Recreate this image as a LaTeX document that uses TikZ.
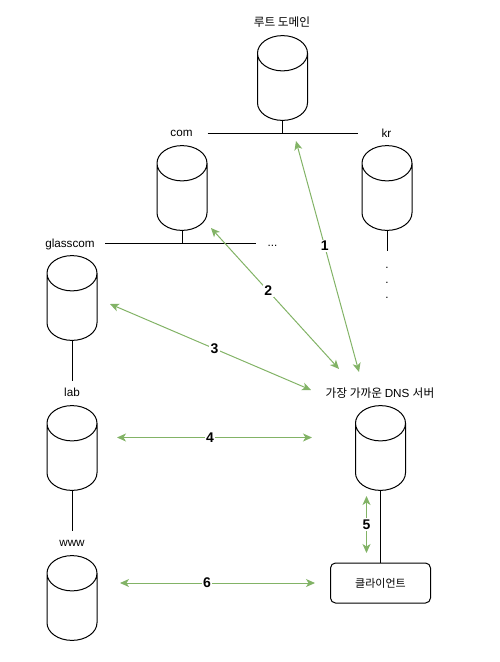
\documentclass[tikz,border=0pt]{standalone}
\usepackage{fontspec}
\setmainfont{Liberation Sans}
\newfontfamily\cjk{Noto Sans CJK KR}
\usetikzlibrary{arrows.meta,shapes.geometric}
\definecolor{hopgreen}{HTML}{82B366}
\tikzset{>={Stealth[length=9pt,width=8pt,inset=2.5pt]}}
\tikzstyle{server}=[draw, shape=cylinder, shape border rotate=90, aspect=0.72,
  anchor=shape center, minimum width=50pt, minimum height=77pt,
  inner sep=24.5pt, line width=1pt]
\tikzstyle{client}=[draw, rounded corners=5pt, minimum width=100pt,
  minimum height=40pt, inner sep=0pt, line width=1pt,
  font=\fontsize{11}{14}\selectfont]
\tikzstyle{tag}=[inner sep=0pt, font=\fontsize{11.7}{14}\selectfont]
\tikzstyle{link}=[line width=1pt]
\tikzstyle{hop}=[<->, hopgreen, line width=1pt]
\tikzstyle{hopnum}=[fill=white, inner sep=1.5pt, text=black,
  font=\fontsize{14}{16}\bfseries\selectfont]

\begin{document}
\begin{tikzpicture}[x=1pt,y=1pt]
  \useasboundingbox (0,0) rectangle (499,-662);

  \node(root)[server] at (282.5,-78) {};
  \path(root.shape center)+(0,-55) coordinate(rootbar);
  \path(rootbar)+(-75,0) coordinate(rootbarl);
  \path(rootbar)+(75,0) coordinate(rootbarr);
  \draw[link] (root.south) -- (rootbar);
  \draw[link] (rootbarl) -- (rootbarr);
  \path(root.shape center)+(-.5,55.5) node(rootname)[tag]{\cjk 루트 도메인};

  \path(root.shape center)+(-100.5,-110) node(com)[server]{};
  \path(root.shape center)+(-101,-55) node(comlabel)[tag]{com};
  \path(com.shape center)+(0,-55) coordinate(combar);
  \path(combar)+(-77,0) coordinate(combarl);
  \path(combar)+(73.5,0) coordinate(combarr);
  \draw[link] (com.south) -- (combar);
  \draw[link] (combarl) -- (combarr);
  \path(combar)+(90.5,-3) node(comdots)[tag]{...};

  \path(root.shape center)+(104.5,-110) node(kr)[server]{};
  \path(root.shape center)+(104,-55) node(krlabel)[tag]{kr};
  \path(kr.south)+(0,-20) coordinate(krend);
  \draw[link] (kr.south) -- (krend);
  \path(krend)+(0,-17) node(krdotsa)[tag]{.};
  \path(krdotsa)+(0,-15) node(krdotsb)[tag]{.};
  \path(krdotsb)+(0,-15) node(krdotsc)[tag]{.};

  \path(com.shape center)+(-110,-110) node(glasscom)[server]{};
  \path(glasscom.shape center)+(-2,54) node(glasslabel)[tag]{glasscom};
  \path(glasscom.south)+(0,-40) coordinate(glassend);
  \draw[link] (glasscom.south) -- (glassend);

  \path(glasscom.shape center)+(0,-150) node(lab)[server]{};
  \path(lab.shape center)+(0,55.5) node(lablabel)[tag]{lab};
  \path(lab.south)+(0,-40) coordinate(labend);
  \draw[link] (lab.south) -- (labend);

  \path(lab.shape center)+(0,-150) node(www)[server]{};
  \path(www.shape center)+(0,55) node(wwwlabel)[tag]{www};

  \path(lab.shape center)+(308.5,0) node(dns)[server]{};
  \path(dns.shape center)+(-.5,55) node(dnslabel)[tag]{\cjk 가장 가까운 \rmfamily DNS \cjk 서버};
  \path(dns.shape center)+(0,-135) node(client)[client]{\cjk 클라이언트};
  \draw[link] (dns.south) -- (dns.south|-client.north);

  \coordinate (oneb) at (359,-372);
  \coordinate (onea) at (296,-141);
  \draw[hop] (oneb) -- (onea) node[pos=.545, hopnum]{1};

  \coordinate (twob) at (339,-369);
  \coordinate (twoa) at (211,-228);
  \draw[hop] (twob) -- (twoa) node[pos=.553, hopnum]{2};

  \coordinate (threea) at (110,-304);
  \coordinate (threeb) at (311,-390);
  \draw[hop] (threea) -- (threeb) node[pos=.52, hopnum]{3};

  \coordinate (foura) at (117,-437.5);
  \coordinate (fourb) at (312,-437.5);
  \draw[hop] (foura) -- (fourb) node[pos=.477, hopnum]{4};

  \coordinate (fivea) at (366.5,-496);
  \coordinate (fiveb) at (366.5,-553);
  \draw[hop] (fivea) -- (fiveb) node[midway, hopnum]{5};

  \coordinate (sixa) at (120,-583);
  \coordinate (sixb) at (315,-583);
  \draw[hop] (sixa) -- (sixb) node[pos=.446, hopnum]{6};
\end{tikzpicture}
\end{document}
